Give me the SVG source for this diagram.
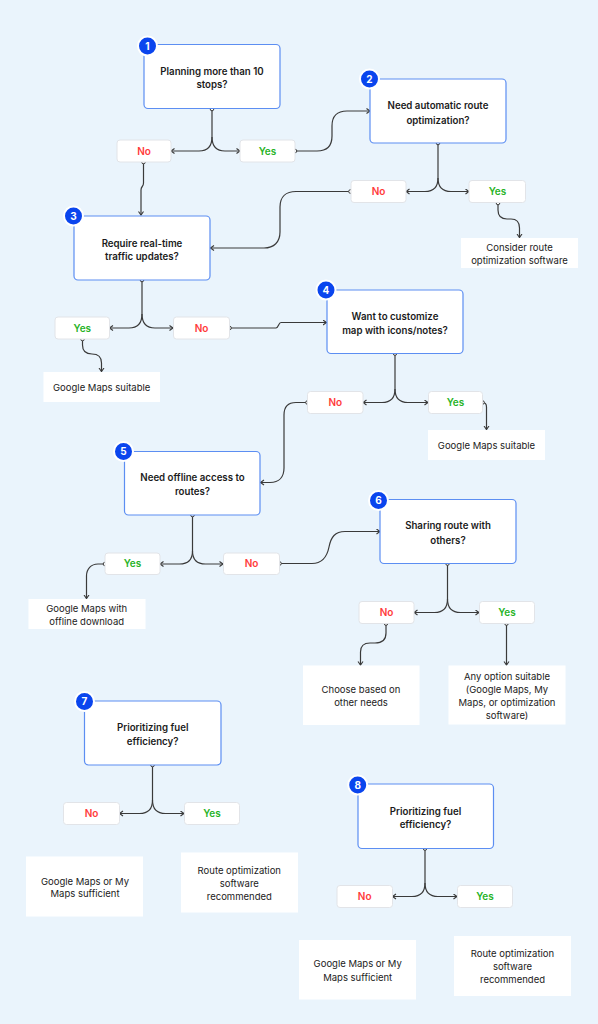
<svg xmlns="http://www.w3.org/2000/svg" width="598" height="1024" viewBox="0 0 598 1024">
<style>
.q{fill:#fff;stroke:#5C8EF2;stroke-width:1.2}
.qt{font-family:Inter,"Liberation Sans",sans-serif;font-size:9.7px;font-weight:600;fill:#1b1b1b;text-anchor:middle}
.bd{fill:#0A45EE;stroke:#fff;stroke-width:2}
.bt{font-family:Inter,"Liberation Sans",sans-serif;font-size:10px;font-weight:700;fill:#fff;text-anchor:middle}
.lb{fill:#fff;stroke:#E2E4E8;stroke-width:1}
.no{font-family:Inter,"Liberation Sans",sans-serif;font-size:10px;font-weight:600;fill:#FF3B3B;text-anchor:middle}
.yes{font-family:Inter,"Liberation Sans",sans-serif;font-size:10px;font-weight:600;fill:#27B327;text-anchor:middle}
.rs{fill:#fff}
.rt{font-family:Inter,"Liberation Sans",sans-serif;font-size:9.5px;font-weight:400;fill:#1b1b1b;text-anchor:middle}
.c{fill:none;stroke:#3a3a3a;stroke-width:1.2}
.ca{fill:none;stroke:#3a3a3a;stroke-width:1.2;marker-end:url(#ah)}
.dot{fill:#fff;stroke:#3a3a3a;stroke-width:1}
</style>
<defs>
<marker id="ah" markerUnits="userSpaceOnUse" markerWidth="8" markerHeight="8" refX="4" refY="3" orient="auto">
<path d="M0.5,0.5 L4,3 L0.5,5.5" fill="none" stroke="#3a3a3a" stroke-width="1.1"/>
</marker>
</defs>
<rect x="0" y="0" width="598" height="1024" fill="#EAF4FC"/>

<g id="connectors">
<path class="c" d="M212,109 V137"/>
<path class="ca" d="M212,137 Q212,151 199,151 H171"/>
<path class="ca" d="M212,137 Q212,151 225,151 H240"/>
<path class="ca" d="M143.5,162 V183 C143.5,187 141,186 141,190 V215"/>
<path class="ca" d="M295,151 H317 C327,151 332,146 332,136 V126 C332,116 337,111 347,111 H370"/>
<path class="c" d="M438,143 V178"/>
<path class="ca" d="M438,178 Q438,191.5 425,191.5 H406"/>
<path class="ca" d="M438,178 Q438,191.5 451,191.5 H469"/>
<path class="ca" d="M498,203 V210 C498,216 501,219 507,219 H511 C516,219 519.5,222 519.5,228 V237.5"/>
<path class="ca" d="M350.5,191.5 H296 C286,191.5 280,197 280,207 V232 C280,242 274,248 264,248 H210.5"/>
<path class="c" d="M142,280 V314"/>
<path class="ca" d="M142,314 Q142,328 129,328 H109.5"/>
<path class="ca" d="M142,314 Q142,328 155,328 H173"/>
<path class="ca" d="M82.5,339 V345 C82.5,351 86,354 92,354 C98,354 101.5,357 101.5,363 V371.5"/>
<path class="ca" d="M229.5,328 H276 C278.5,328 278.5,322.5 281,322.5 H326.5"/>
<path class="c" d="M395,353.5 V389"/>
<path class="ca" d="M395,389 Q395,402.5 382,402.5 H363"/>
<path class="ca" d="M395,389 Q395,402.5 408,402.5 H428"/>
<path class="ca" d="M482.5,402.5 C485,402.5 486.5,404 486.5,407 V429.5"/>
<path class="ca" d="M307.5,402.5 H296 C288,402.5 284,407 284,415 V468 C284,477 279,482.5 270,482.5 H260.5"/>
<path class="c" d="M192.5,515 V551"/>
<path class="ca" d="M192.5,551 Q192.5,564 179.5,564 H160"/>
<path class="ca" d="M192.5,551 Q192.5,564 205.5,564 H223"/>
<path class="ca" d="M105,564 H98 C91,564 86.5,569 86.5,576 V598.5"/>
<path class="ca" d="M279.5,563.5 H312 C322,563.5 327,557 329,547 C331,537 335,531.5 345,531.5 H380"/>
<path class="c" d="M447.5,563.5 V599"/>
<path class="ca" d="M447.5,599 Q447.5,612.5 434.5,612.5 H414"/>
<path class="ca" d="M447.5,599 Q447.5,612.5 460.5,612.5 H479"/>
<path class="ca" d="M386,623.5 V633 C386,640 382,643 375,643 H370 C364,643 360.5,646 360.5,652 V665"/>
<path class="ca" d="M506.5,623.5 V665"/>
<path class="c" d="M152.5,765 V800"/>
<path class="ca" d="M152.5,800 Q152.5,813.5 139.5,813.5 H119.5"/>
<path class="ca" d="M152.5,800 Q152.5,813.5 165.5,813.5 H184"/>
<path class="c" d="M425,848.5 V883"/>
<path class="ca" d="M425,883 Q425,896.5 412,896.5 H392.5"/>
<path class="ca" d="M425,883 Q425,896.5 438,896.5 H457"/>
<circle class="dot" cx="212" cy="109" r="1.8"/>
<circle class="dot" cx="143.5" cy="162" r="1.8"/>
<circle class="dot" cx="295" cy="151" r="1.8"/>
<circle class="dot" cx="438" cy="143" r="1.8"/>
<circle class="dot" cx="498" cy="203" r="1.8"/>
<circle class="dot" cx="350.5" cy="191.5" r="1.8"/>
<circle class="dot" cx="142" cy="280" r="1.8"/>
<circle class="dot" cx="82.5" cy="339" r="1.8"/>
<circle class="dot" cx="229.5" cy="328" r="1.8"/>
<circle class="dot" cx="395" cy="353.5" r="1.8"/>
<circle class="dot" cx="482.5" cy="402.5" r="1.8"/>
<circle class="dot" cx="307.5" cy="402.5" r="1.8"/>
<circle class="dot" cx="192.5" cy="515" r="1.8"/>
<circle class="dot" cx="105" cy="564" r="1.8"/>
<circle class="dot" cx="279.5" cy="563.5" r="1.8"/>
<circle class="dot" cx="447.5" cy="563.5" r="1.8"/>
<circle class="dot" cx="386" cy="623.5" r="1.8"/>
<circle class="dot" cx="506.5" cy="623.5" r="1.8"/>
<circle class="dot" cx="152.5" cy="765" r="1.8"/>
<circle class="dot" cx="425" cy="848.5" r="1.8"/>
</g>

<g id="node1">
<rect class="q" x="144" y="44.5" width="136" height="64" rx="4"/>
<text class="qt" x="212" y="75.2">Planning more than 10</text>
<text class="qt" x="212" y="87.7">stops?</text>
<circle class="bd" cx="147.5" cy="46" r="9.5"/>
<text class="bt" x="147.5" y="49.6">1</text>
</g>
<g id="node2">
<rect class="q" x="370" y="79" width="136" height="64" rx="4"/>
<text class="qt" x="438" y="109.2">Need automatic route</text>
<text class="qt" x="438" y="123.5">optimization?</text>
<circle class="bd" cx="369.5" cy="79" r="9.5"/>
<text class="bt" x="369.5" y="82.6">2</text>
</g>
<g id="node3">
<rect class="q" x="74" y="216" width="136" height="64" rx="4"/>
<text class="qt" x="142" y="247">Require real-time</text>
<text class="qt" x="142" y="259.5">traffic updates?</text>
<circle class="bd" cx="73.5" cy="216" r="9.5"/>
<text class="bt" x="73.5" y="219.6">3</text>
</g>
<g id="node4">
<rect class="q" x="327" y="290" width="136" height="63.5" rx="4"/>
<text class="qt" x="395" y="320.2">Want to customize</text>
<text class="qt" x="395" y="334.2">map with icons/notes?</text>
<circle class="bd" cx="326" cy="290" r="9.5"/>
<text class="bt" x="326" y="293.6">4</text>
</g>
<g id="node5">
<rect class="q" x="124.5" y="451.5" width="135.5" height="63.5" rx="4"/>
<text class="qt" x="192.5" y="481.2">Need offline access to</text>
<text class="qt" x="192.5" y="495.2">routes?</text>
<circle class="bd" cx="123.5" cy="451.5" r="9.5"/>
<text class="bt" x="123.5" y="455.1">5</text>
</g>
<g id="node6">
<rect class="q" x="380" y="499.5" width="136" height="64" rx="4"/>
<text class="qt" x="448" y="529.2">Sharing route with</text>
<text class="qt" x="448" y="543.5">others?</text>
<circle class="bd" cx="378.5" cy="500.5" r="9.5"/>
<text class="bt" x="378.5" y="504.1">6</text>
</g>
<g id="node7">
<rect class="q" x="84.5" y="701" width="136.5" height="64" rx="4"/>
<text class="qt" x="152.7" y="731.2">Prioritizing fuel</text>
<text class="qt" x="152.7" y="745.2">efficiency?</text>
<circle class="bd" cx="84.5" cy="701.5" r="9.5"/>
<text class="bt" x="84.5" y="705.1">7</text>
</g>
<g id="node8">
<rect class="q" x="358" y="784" width="135.5" height="64.5" rx="4"/>
<text class="qt" x="425.5" y="815.2">Prioritizing fuel</text>
<text class="qt" x="425.5" y="827.7">efficiency?</text>
<circle class="bd" cx="357.7" cy="785" r="9.5"/>
<text class="bt" x="357.7" y="788.6">8</text>
</g>

<g id="n1-no"><rect class="lb" x="117" y="140" width="54" height="22" rx="3"/><text class="no" x="144" y="154.5">No</text></g>
<g id="n1-yes"><rect class="lb" x="240" y="140" width="55" height="22" rx="3"/><text class="yes" x="267.5" y="154.5">Yes</text></g>
<g id="n2-no"><rect class="lb" x="351" y="180.5" width="55" height="22" rx="3"/><text class="no" x="378.5" y="195">No</text></g>
<g id="n2-yes"><rect class="lb" x="469" y="180.5" width="56.5" height="22" rx="3"/><text class="yes" x="497.5" y="195">Yes</text></g>
<g id="n3-yes"><rect class="lb" x="55" y="317" width="54.5" height="22" rx="3"/><text class="yes" x="82.3" y="331.5">Yes</text></g>
<g id="n3-no"><rect class="lb" x="173.5" y="317" width="56" height="22" rx="3"/><text class="no" x="201.5" y="331.5">No</text></g>
<g id="n4-no"><rect class="lb" x="307.5" y="391.5" width="55.5" height="22" rx="3"/><text class="no" x="335.3" y="406">No</text></g>
<g id="n4-yes"><rect class="lb" x="428.5" y="391.5" width="54" height="22" rx="3"/><text class="yes" x="455.5" y="406">Yes</text></g>
<g id="n5-yes"><rect class="lb" x="105" y="553" width="55" height="21.5" rx="3"/><text class="yes" x="132.5" y="567.3">Yes</text></g>
<g id="n5-no"><rect class="lb" x="223.5" y="553" width="56" height="21.5" rx="3"/><text class="no" x="251.5" y="567.3">No</text></g>
<g id="n6-no"><rect class="lb" x="359" y="601.5" width="55" height="22" rx="3"/><text class="no" x="386.5" y="616">No</text></g>
<g id="n6-yes"><rect class="lb" x="479.5" y="601.5" width="55" height="22" rx="3"/><text class="yes" x="507" y="616">Yes</text></g>
<g id="n7-no"><rect class="lb" x="63.5" y="802.5" width="56" height="22" rx="3"/><text class="no" x="91.5" y="817">No</text></g>
<g id="n7-yes"><rect class="lb" x="184.5" y="802.5" width="55" height="22" rx="3"/><text class="yes" x="212" y="817">Yes</text></g>
<g id="n8-no"><rect class="lb" x="337" y="885.5" width="55.5" height="22" rx="3"/><text class="no" x="364.7" y="900">No</text></g>
<g id="n8-yes"><rect class="lb" x="457.5" y="885.5" width="55" height="22" rx="3"/><text class="yes" x="485" y="900">Yes</text></g>

<g id="r2"><rect class="rs" x="461" y="238" width="117" height="30"/>
<text class="rt" x="519.5" y="251">Consider route</text><text class="rt" x="519.5" y="264.3">optimization software</text></g>
<g id="r3"><rect class="rs" x="43.5" y="372" width="116.5" height="30"/>
<text class="rt" x="101.7" y="391">Google Maps suitable</text></g>
<g id="r4"><rect class="rs" x="428" y="430" width="117" height="30"/>
<text class="rt" x="486.5" y="449">Google Maps suitable</text></g>
<g id="r5"><rect class="rs" x="28.5" y="599" width="117" height="30"/>
<text class="rt" x="86.7" y="611.6">Google Maps with</text><text class="rt" x="86.7" y="625">offline download</text></g>
<g id="r6-no"><rect class="rs" x="303" y="665.5" width="116.5" height="59.5"/>
<text class="rt" x="361" y="693.3">Choose based on</text><text class="rt" x="361" y="705.6">other needs</text></g>
<g id="r6-yes"><rect class="rs" x="448.5" y="665.5" width="117" height="59"/>
<text class="rt" x="507" y="680">Any option suitable</text><text class="rt" x="507" y="692.6">(Google Maps, My</text><text class="rt" x="507" y="705.6">Maps, or optimization</text><text class="rt" x="507" y="719">software)</text></g>
<g id="r7-no"><rect class="rs" x="26" y="856.5" width="117" height="60"/>
<text class="rt" x="85" y="885">Google Maps or My</text><text class="rt" x="85" y="897.3">Maps sufficient</text></g>
<g id="r7-yes"><rect class="rs" x="181" y="852.5" width="117" height="60"/>
<text class="rt" x="239.3" y="874.3">Route optimization</text><text class="rt" x="239.3" y="887.3">software</text><text class="rt" x="239.3" y="900">recommended</text></g>
<g id="r8-no"><rect class="rs" x="299" y="940" width="117" height="59.5"/>
<text class="rt" x="357.7" y="967.3">Google Maps or My</text><text class="rt" x="357.7" y="980.6">Maps sufficient</text></g>
<g id="r8-yes"><rect class="rs" x="454" y="936" width="117" height="60"/>
<text class="rt" x="512.5" y="957.3">Route optimization</text><text class="rt" x="512.5" y="970">software</text><text class="rt" x="512.5" y="982.6">recommended</text></g>
</svg>
